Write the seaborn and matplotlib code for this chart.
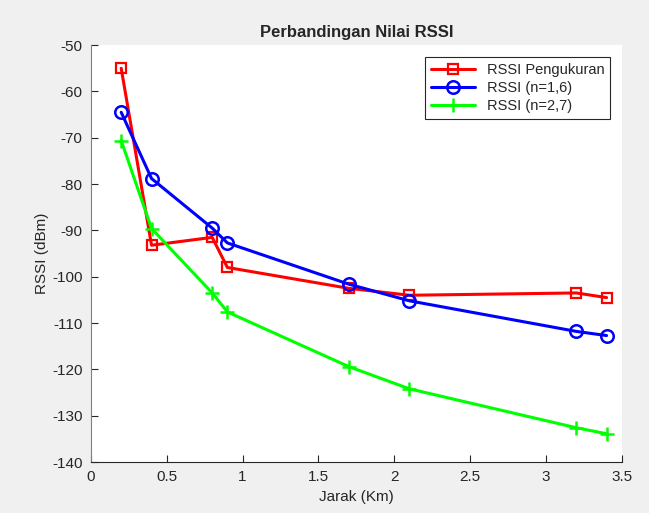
import pandas as pd
import seaborn as sns
import matplotlib.pyplot as plt

# data
jarak = [0.2, 0.4, 0.8, 0.9, 1.7, 2.1, 3.2, 3.4]
rssi_ukur = [-55, -93.2, -91.5, -98.0, -102.5, -104.0, -103.5, -104.5]
rssi_n16 = [-64.5, -78.8, -89.5, -92.7, -101.6, -105.2, -111.8, -112.7]
rssi_n27 = [-70.6, -89.6, -103.5, -107.6, -119.4, -124.2, -132.6, -133.9]

sns.set_theme(style="white")
plt.rcParams['font.family'] = ['Liberation Sans', 'DejaVu Sans']
plt.rcParams['axes.unicode_minus'] = False

fig = plt.figure(figsize=(6.49, 5.13), dpi=100, facecolor='#f0f0f0')
ax = fig.add_axes([0.140, 0.0994, 0.818, 0.8126])
ax.set_facecolor('white')

sns.lineplot(x=jarak, y=rssi_ukur, ax=ax, color='#ff0000', lw=2.2, marker='s',
             markersize=6.5, markerfacecolor='none', markeredgecolor='#ff0000',
             markeredgewidth=1.6, label='RSSI Pengukuran')
sns.lineplot(x=jarak, y=rssi_n16, ax=ax, color='#0000ff', lw=2.2, marker='o',
             markersize=9, markerfacecolor='none', markeredgecolor='#0000ff',
             markeredgewidth=1.8, label='RSSI (n=1,6)')
sns.lineplot(x=jarak, y=rssi_n27, ax=ax, color='#00ff00', lw=2.2, marker='+',
             markersize=10, markeredgecolor='#00ff00', markeredgewidth=1.8,
             label='RSSI (n=2,7)')

ax.set_xlim(0, 3.5)
ax.set_ylim(-140, -50)
ax.set_xticks([0, 0.5, 1, 1.5, 2, 2.5, 3, 3.5])
ax.set_xticklabels(['0', '0.5', '1', '1.5', '2', '2.5', '3', '3.5'])
ax.set_yticks(range(-140, -49, 10))

for side in ['top', 'right']:
    ax.spines[side].set_visible(False)
for side in ['left', 'bottom']:
    ax.spines[side].set_color('#262626')
    ax.spines[side].set_linewidth(0.8)
ax.spines['left'].set_color('#808080')
ax.tick_params(axis='both', direction='in', length=5, width=0.8,
               colors='#262626', labelsize=11, pad=6)
ax.tick_params(axis='both', which='both', bottom=True, left=True)

ax.set_title('Perbandingan Nilai RSSI', fontsize=12, fontweight='bold', pad=6)
ax.set_xlabel('Jarak (Km)', fontsize=11, color='#262626', labelpad=4)
ax.set_ylabel('RSSI (dBm)', fontsize=11, color='#262626', labelpad=2)

leg = ax.legend(loc='upper right', fontsize=10.5, frameon=True, fancybox=False,
                edgecolor='#262626', framealpha=1, borderaxespad=0.8,
                handlelength=3, labelspacing=0.3, borderpad=0.4)
leg.get_frame().set_linewidth(0.8)

fig.savefig('out.png', dpi=100, facecolor=fig.get_facecolor())
